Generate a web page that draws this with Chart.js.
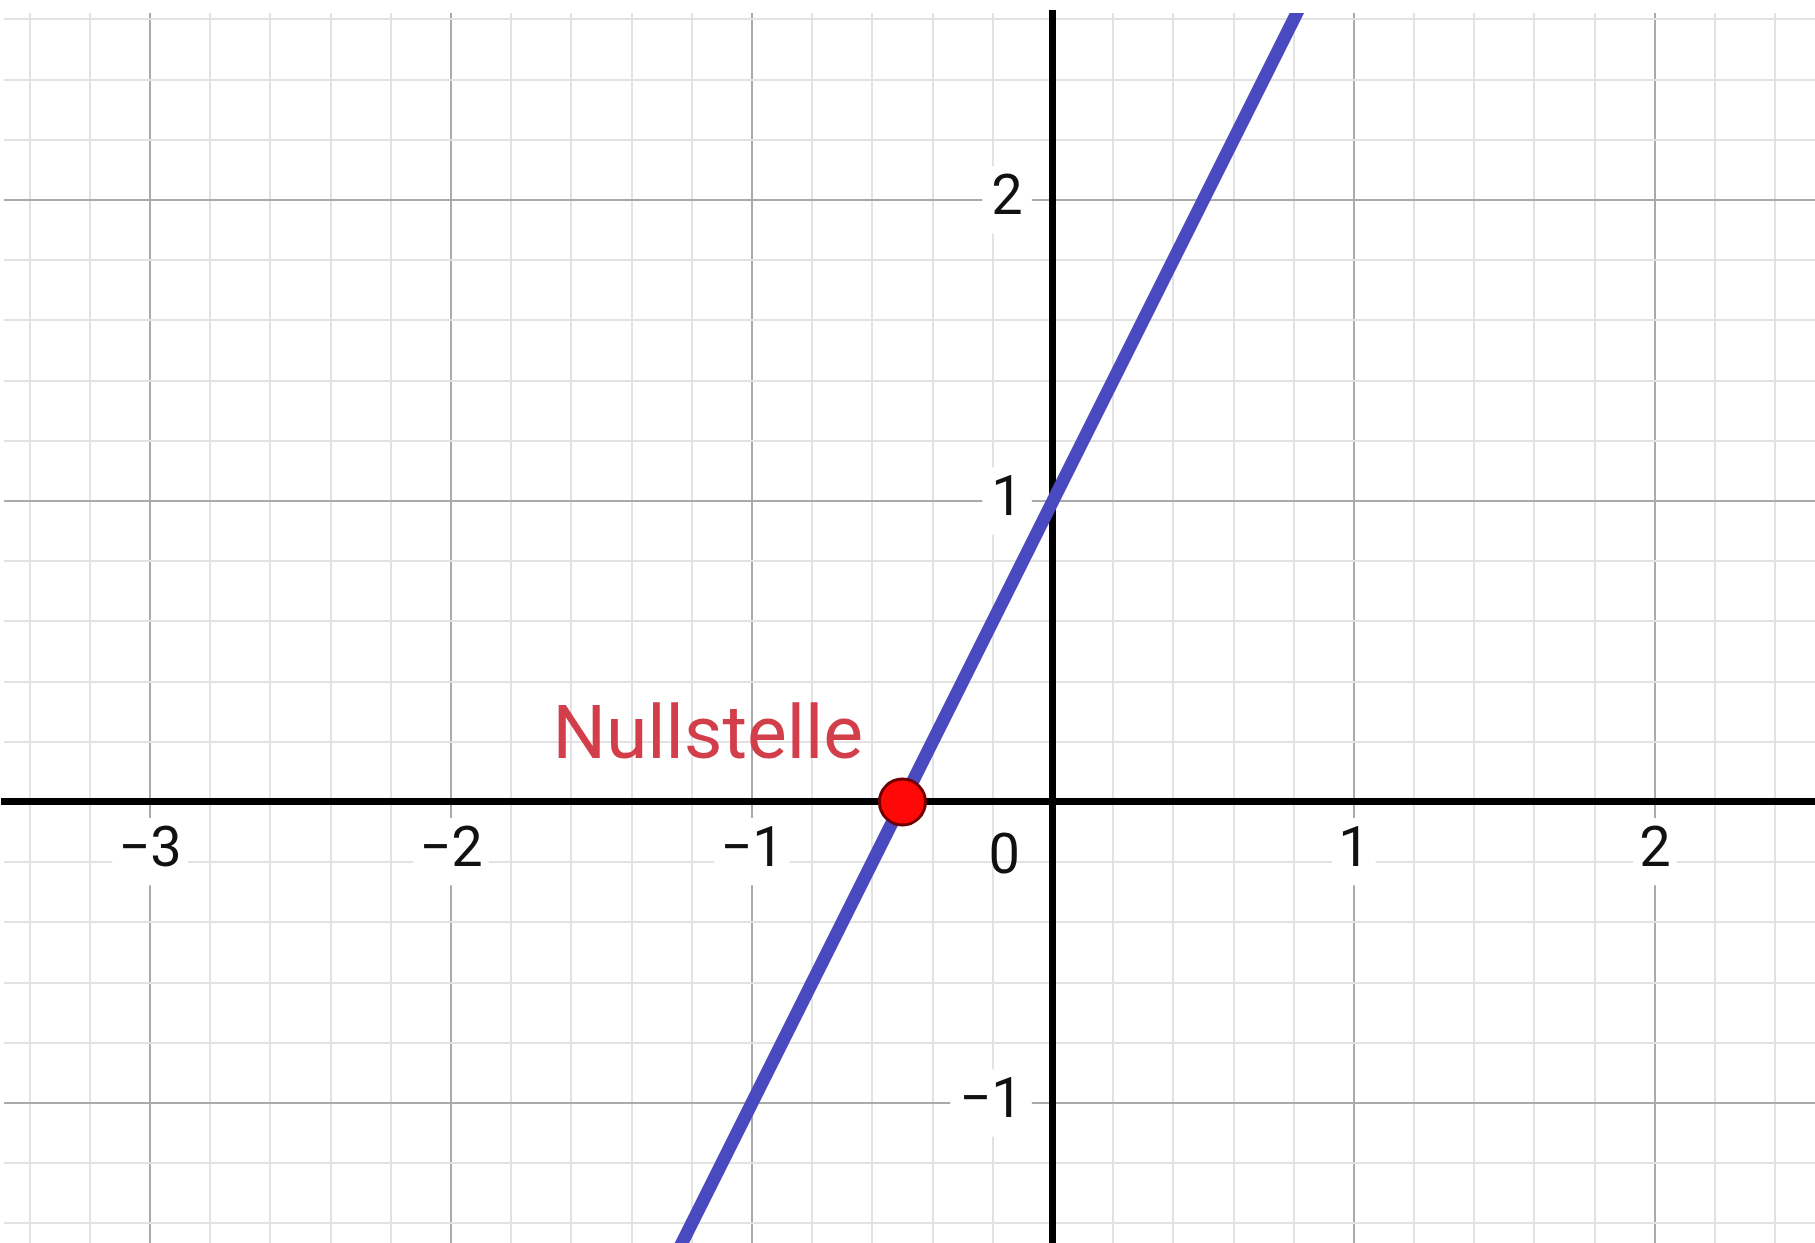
<!DOCTYPE html>
<html>
<head>
<meta charset="utf-8">
<script src="https://cdn.jsdelivr.net/npm/chart.js@4/dist/chart.umd.min.js"></script>
<style>
  html, body { margin: 0; padding: 0; background: #ffffff; }
  canvas { display: block; }
</style>
</head>
<body>
<canvas id="c" width="1815" height="1243"></canvas>
<script>
// ---- data ----
const xRange = [-3.485, 2.532];
const yRange = [-1.465, 2.621];
const xTickLabels = [-3, -2, -1, 1, 2];
const yTickLabels = [-1, 1, 2];
const originLabel = '0';
const minorStep = 0.2;
// points (y = 2x + 1)
const lineXs = [-1.5, -1, -0.5, 0, 0.5, 1];
const lineYs = [-2, -1, 0, 1, 2, 3];
// highlighted zero
const zeroXs = [-0.5];
const zeroYs = [0];
const zeroLabel = 'Nullstelle';

// ---- styles ----
const FONT = 'Roboto';
const TICK_SIZE = 56;
const majorGrid = 'rgb(170,170,170)';
const minorGrid = 'rgb(226,226,226)';
const blue = 'rgb(74,74,192)';
const yLabelOffsetX = -0.1;   // y tick labels sit left of the y-axis

function isInt(v) { return Math.abs(v - Math.round(v)) < 1e-9; }
function fmt(v) { return v < 0 ? '\u2212' + Math.abs(v) : String(v); }
function gridValues(min, max) {
  const out = [];
  const n0 = Math.ceil(min / minorStep - 1e-9), n1 = Math.floor(max / minorStep + 1e-9);
  for (let i = n0; i <= n1; i++) out.push(Math.round(i * minorStep * 1000) / 1000);
  return out;
}
function labelFor(v, list) {
  if (!isInt(v)) return '';
  const r = Math.round(v);
  return list.includes(r) ? fmt(r) : '';
}
function hasLabel(ctx, list) {
  return !!(ctx.tick && labelFor(ctx.tick.value, list));
}
function noPad(s) { s.paddingTop = 0; s.paddingBottom = 0; s.paddingLeft = 0; s.paddingRight = 0; }
function minorTicks(s) { s.ticks = gridValues(s.min, s.max).map(v => ({ value: v })); }

const textPlugin = {
  id: 'extraTexts',
  afterDatasetsDraw(chart) {
    const { ctx, scales: { x, y } } = chart;
    const ox = x.getPixelForValue(0), oy = y.getPixelForValue(0);
    ctx.save();
    ctx.font = TICK_SIZE + 'px ' + FONT;
    ctx.fillStyle = '#111111';
    ctx.textAlign = 'right';
    ctx.textBaseline = 'middle';
    ctx.fillText(originLabel, ox - 33, oy + 57);
    const px = x.getPixelForValue(zeroXs[0]), py = y.getPixelForValue(zeroYs[0]);
    ctx.font = '75px ' + FONT;
    ctx.fillStyle = 'rgb(210,62,74)';
    ctx.textAlign = 'left';
    ctx.textBaseline = 'alphabetic';
    ctx.fillText(zeroLabel, px - 350, py - 44);
    ctx.restore();
  }
};

new Chart(document.getElementById('c'), {
  type: 'scatter',
  data: {
    datasets: [
      {
        label: zeroLabel,
        data: zeroXs.map((v, i) => ({ x: v, y: zeroYs[i] })),
        pointRadius: 23,
        pointBorderWidth: 3,
        pointBackgroundColor: 'rgb(255,8,8)',
        pointBorderColor: 'rgb(110,0,0)',
        showLine: false
      },
      {
        label: 'f',
        data: lineXs.map((v, i) => ({ x: v, y: lineYs[i] })),
        showLine: true,
        borderColor: blue,
        borderWidth: 13,
        pointRadius: 0,
        fill: false,
        clip: 0
      }
    ]
  },
  options: {
    responsive: false,
    devicePixelRatio: 1,
    animation: false,
    layout: { autoPadding: false, padding: { left: 4, top: 13, right: 0, bottom: 0 } },
    plugins: { legend: { display: false }, tooltip: { enabled: false } },
    scales: {
      x: {
        type: 'linear',
        min: xRange[0],
        max: xRange[1],
        position: { y: 0 },
        afterBuildTicks: minorTicks,
        afterFit: noPad,
        grid: {
          color: ctx => (ctx.tick && isInt(ctx.tick.value)) ? majorGrid : minorGrid,
          lineWidth: 2,
          drawTicks: false
        },
        border: { display: true, color: '#000000', width: 7 },
        ticks: {
          autoSkip: false,
          maxRotation: 0,
          padding: 16,
          color: '#111111',
          font: { family: FONT, size: TICK_SIZE },
          callback: v => labelFor(v, xTickLabels),
          showLabelBackdrop: ctx => hasLabel(ctx, xTickLabels),
          backdropColor: '#ffffff',
          backdropPadding: { x: 6, y: 0 }
        }
      },
      y: {
        type: 'linear',
        min: yRange[0],
        max: yRange[1],
        position: { x: 0 },
        afterBuildTicks: minorTicks,
        afterFit: noPad,
        grid: {
          color: ctx => (ctx.tick && isInt(ctx.tick.value)) ? majorGrid : minorGrid,
          lineWidth: 2,
          drawTicks: false
        },
        border: { display: true, color: '#000000', width: 7 },
        ticks: { display: false }
      },
      yLabels: {
        type: 'linear',
        axis: 'y',
        min: yRange[0],
        max: yRange[1],
        position: { x: yLabelOffsetX },
        afterBuildTicks: minorTicks,
        afterFit: noPad,
        grid: { display: false },
        border: { display: false },
        ticks: {
          autoSkip: false,
          padding: 0,
          color: '#111111',
          font: { family: FONT, size: TICK_SIZE },
          callback: v => labelFor(v, yTickLabels),
          showLabelBackdrop: ctx => hasLabel(ctx, yTickLabels),
          backdropColor: '#ffffff',
          backdropPadding: { x: 9, y: 0 }
        }
      }
    }
  },
  plugins: [textPlugin]
});
</script>
</body>
</html>
